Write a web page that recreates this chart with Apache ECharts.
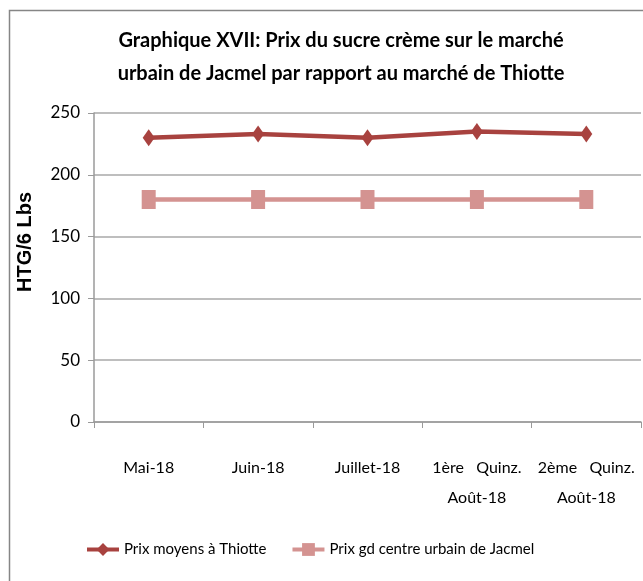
<!DOCTYPE html>
<html>
<head>
<meta charset="utf-8">
<script src="https://cdn.jsdelivr.net/npm/echarts@6/dist/echarts.min.js"></script>
<style>
html, body { margin: 0; padding: 0; background: #fff; }
#main { width: 643px; height: 581px; }
</style>
</head>
<body>
<div id="main"></div>
<script>
// categories and values
var categories = ['Mai-18', 'Juin-18', 'Juillet-18', '1ère   Quinz.\nAoût-18', '2ème   Quinz.\nAoût-18'];
var prixThiotte = [230, 233, 230, 235, 233];
var prixJacmel = [180, 180, 180, 180, 180];
var yTicks = [0, 50, 100, 150, 200, 250];

var font = 'Lato, "Open Sans", sans-serif';
var myChart = echarts.init(document.getElementById('main'));

myChart.setOption({
    backgroundColor: '#fff',
    animation: false,
    title: {
        text: 'Graphique XVII: Prix du sucre crème sur le marché\nurbain de Jacmel par rapport au marché de Thiotte',
        left: 336,
        textAlign: 'center',
        top: 19,
        textStyle: { fontFamily: font, fontSize: 20, fontWeight: 'bold', color: '#000', lineHeight: 33 }
    },
    graphic: [{
        type: 'rect',
        shape: { x: 9.5, y: 10.5, width: 700, height: 700 },
        style: { fill: 'none', stroke: '#868686', lineWidth: 1.5 },
        silent: true
    }, {
        // titre de l'axe Y
        type: 'text',
        x: 25,
        y: 242,
        rotation: Math.PI / 2,
        style: {
            text: 'HTG/6 Lbs',
            fontFamily: '"Liberation Sans", Arial, sans-serif',
            fontSize: 20,
            fontWeight: 'bold',
            fill: '#000',
            align: 'center',
            verticalAlign: 'middle'
        },
        silent: true
    }],
    legend: {
        bottom: 19,
        left: 80,
        itemGap: 24,
        itemWidth: 32,
        itemHeight: 16,
        lineStyle: { width: 4 },
        textStyle: { fontFamily: font, fontSize: 15, color: '#000' },
        data: ['Prix moyens à Thiotte', 'Prix gd centre urbain de Jacmel']
    },
    grid: { left: 94, right: 2, top: 113, bottom: 159 },
    xAxis: {
        type: 'category',
        data: categories,
        boundaryGap: true,
        axisLine: { lineStyle: { color: '#9A9A9A', width: 1.5 } },
        axisTick: { show: true, length: 6, lineStyle: { color: '#9A9A9A' } },
        axisLabel: { fontFamily: font, fontSize: 16, color: '#000', margin: 31, lineHeight: 30, interval: 0 }
    },
    yAxis: {
        type: 'value',
        min: 0,
        max: 250,
        interval: 50,
        axisLine: { show: true, lineStyle: { color: '#9A9A9A', width: 1.5 } },
        axisTick: { show: true, length: 6, lineStyle: { color: '#9A9A9A' } },
        axisLabel: {
            fontFamily: font, fontSize: 17, color: '#000', margin: 14,
            formatter: function (v) { return yTicks.indexOf(v) >= 0 ? String(v) : ''; }
        },
        splitLine: { lineStyle: { color: '#A8A8A8', width: 1.5 } }
    },
    series: [
        {
            name: 'Prix moyens à Thiotte',
            type: 'line',
            data: prixThiotte,
            symbol: 'diamond',
            symbolSize: [12, 17],
            itemStyle: { color: '#A8423F' },
            lineStyle: { color: '#A8423F', width: 4.5 },
            z: 3
        },
        {
            name: 'Prix gd centre urbain de Jacmel',
            type: 'line',
            data: prixJacmel,
            symbol: 'rect',
            symbolSize: [14, 19],
            itemStyle: { color: '#D49391' },
            lineStyle: { color: '#D49391', width: 4.5 },
            z: 2
        }
    ]
});
</script>
</body>
</html>
